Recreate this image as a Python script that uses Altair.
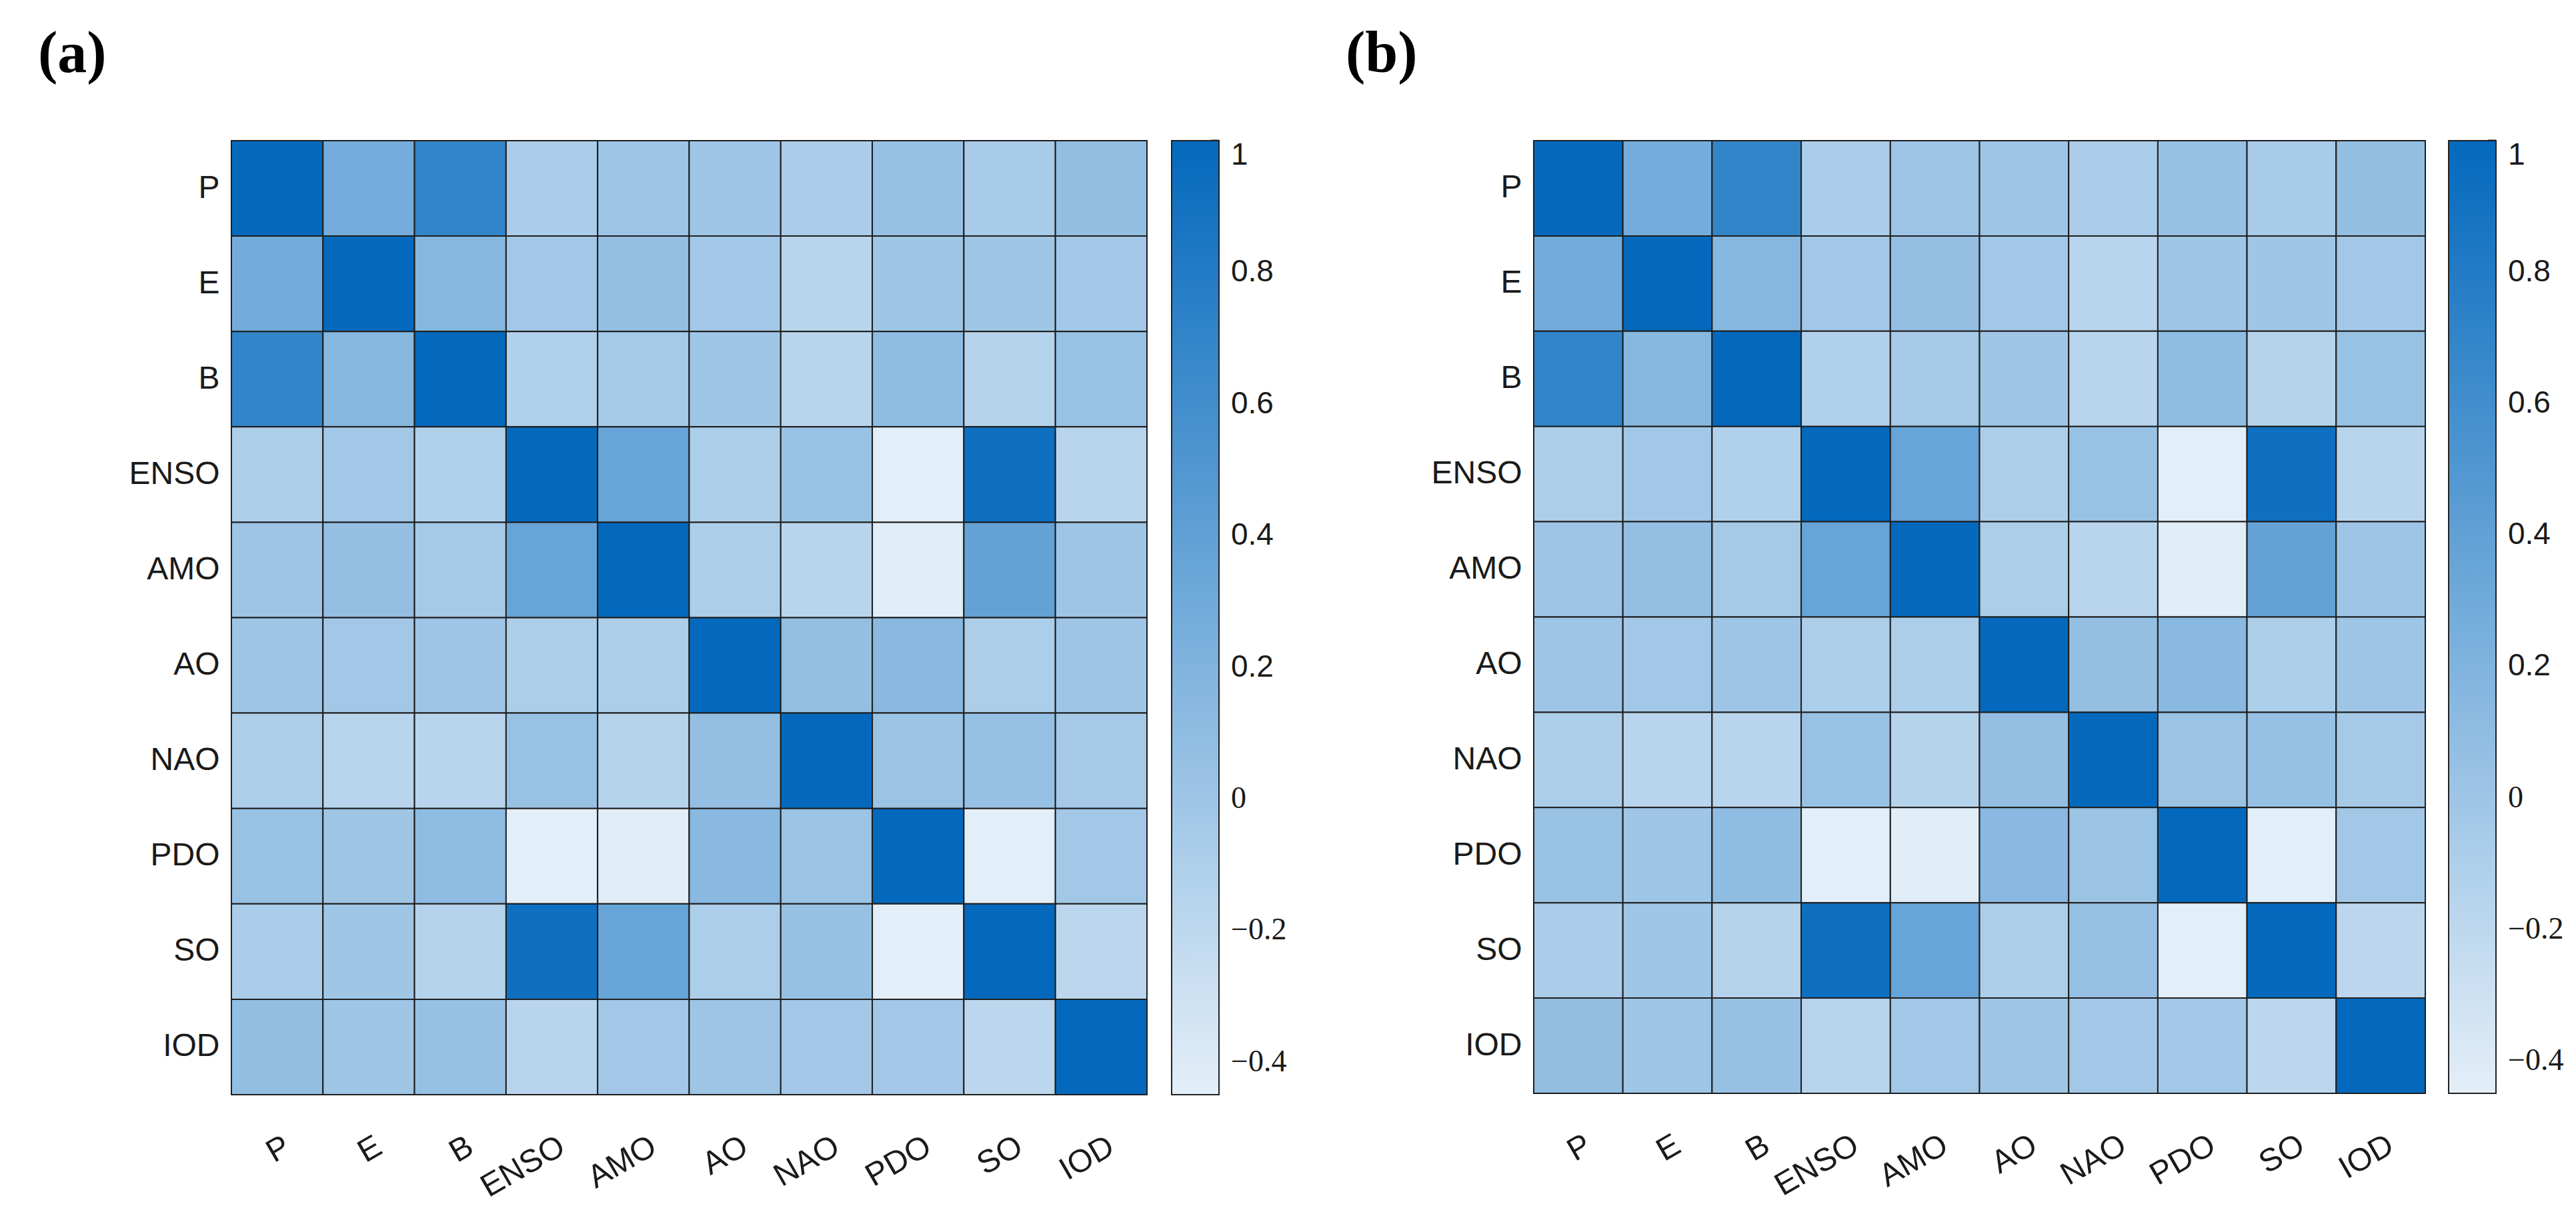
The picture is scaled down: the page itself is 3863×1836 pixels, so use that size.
import altair as alt
import pandas as pd

labels = ["P", "E", "B", "ENSO", "AMO", "AO", "NAO", "PDO", "SO", "IOD"]

corr_a = [
    [1.00, 0.27, 0.70, -0.08, 0.00, 0.00, -0.08, 0.05, -0.06, 0.08],
    [0.28, 1.00, 0.16, -0.02, 0.07, -0.03, -0.17, -0.01, -0.01, -0.02],
    [0.70, 0.16, 1.00, -0.12, -0.04, -0.01, -0.17, 0.10, -0.15, 0.04],
    [-0.09, -0.02, -0.12, 1.00, 0.36, -0.09, 0.04, -0.44, 0.93, -0.17],
    [0.00, 0.07, -0.04, 0.36, 1.00, -0.09, -0.17, -0.43, 0.38, 0.00],
    [0.00, -0.03, 0.00, -0.09, -0.09, 1.00, 0.07, 0.14, -0.09, 0.00],
    [-0.09, -0.17, -0.17, 0.04, -0.15, 0.07, 1.00, 0.03, 0.05, -0.04],
    [0.04, -0.01, 0.10, -0.44, -0.43, 0.14, 0.03, 1.00, -0.44, -0.03],
    [-0.08, -0.01, -0.15, 0.93, 0.36, -0.09, 0.05, -0.44, 1.00, -0.19],
    [0.08, -0.01, 0.05, -0.17, -0.02, 0.00, -0.03, -0.03, -0.19, 1.00],
]

corr_b = [
    [1.00, 0.27, 0.70, -0.08, 0.00, 0.00, -0.08, 0.05, -0.06, 0.08],
    [0.28, 1.00, 0.16, -0.02, 0.07, -0.03, -0.17, -0.01, -0.01, -0.02],
    [0.70, 0.16, 1.00, -0.12, -0.04, -0.01, -0.17, 0.10, -0.15, 0.04],
    [-0.09, -0.02, -0.12, 1.00, 0.36, -0.09, 0.04, -0.44, 0.93, -0.17],
    [0.00, 0.07, -0.04, 0.36, 1.00, -0.09, -0.17, -0.43, 0.38, 0.00],
    [0.00, -0.03, 0.00, -0.09, -0.09, 1.00, 0.07, 0.14, -0.09, 0.00],
    [-0.09, -0.17, -0.17, 0.04, -0.15, 0.07, 1.00, 0.03, 0.05, -0.04],
    [0.04, -0.01, 0.10, -0.44, -0.43, 0.14, 0.03, 1.00, -0.44, -0.03],
    [-0.08, -0.01, -0.15, 0.93, 0.36, -0.09, 0.05, -0.44, 1.00, -0.19],
    [0.08, -0.01, 0.05, -0.17, -0.02, 0.00, -0.03, -0.03, -0.19, 1.00],
]

legend_ticks = [-0.4, -0.2, 0, 0.2, 0.4, 0.6, 0.8, 1]
color_domain = [-0.45, 1.0]
color_range = ["#e4eff8", "#0469bd"]


def to_long(matrix):
    rows = []
    for i, r in enumerate(labels):
        for j, c in enumerate(labels):
            rows.append({"row": r, "col": c, "value": matrix[i][j]})
    return pd.DataFrame(rows)


def panel(matrix, title, w, h, legend_x, title_dx):
    df = to_long(matrix)
    heat = (
        alt.Chart(df)
        .mark_rect(stroke="#1e1e1e", strokeWidth=2)
        .encode(
            x=alt.X(
                "col:N",
                sort=labels,
                axis=alt.Axis(
                    title=None, orient="bottom", labelAngle=330, labelAlign="right",
                    labelBaseline="middle", labelPadding=74, labelOffset=16,
                    labelFontSize=48, labelFont="Liberation Sans", labelColor="#1a1a1a",
                    ticks=False, domain=False,
                ),
            ),
            y=alt.Y(
                "row:N",
                sort=labels,
                axis=alt.Axis(
                    title=None, labelFontSize=48, labelFont="Liberation Sans",
                    labelColor="#1a1a1a", ticks=False, domain=False, labelPadding=18,
                ),
            ),
            color=alt.Color(
                "value:Q",
                scale=alt.Scale(domain=color_domain, range=color_range, interpolate="rgb"),
                legend=alt.Legend(
                    orient="none", legendX=legend_x, legendY=0, direction="vertical",
                    title=None, gradientLength=h, gradientThickness=71,
                    values=legend_ticks, format=".1~f", labelFontSize=46, labelOffset=18,
                    labelColor="#1a1a1a",
                    labelFont=alt.ExprRef("datum.value <= 0 ? 'Liberation Serif' : 'Liberation Sans'"),
                    gradientStrokeColor="#222222", gradientStrokeWidth=2,
                ),
            ),
        )
    )
    ticks_df = pd.DataFrame({"v": legend_ticks})
    ticks = (
        alt.Chart(ticks_df)
        .mark_rule(color="#222222", strokeWidth=3)
        .encode(
            y=alt.Y("v:Q", scale=alt.Scale(domain=color_domain, nice=False, zero=False), axis=None),
            x=alt.value(legend_x + 71 - 12),
            x2=alt.value(legend_x + 71),
        )
    )
    return (
        alt.layer(heat, ticks)
        .resolve_scale(y="independent")
        .properties(
            width=w, height=h,
            title=alt.TitleParams(
                title, anchor="start", frame="group", dx=title_dx, fontSize=88,
                font="Liberation Serif", fontWeight="bold", offset=84, color="#000000",
            ),
        )
    )


chart_a = panel(corr_a, "(a)", 1373, 1431, 1410, -290)
chart_b = panel(corr_b, "(b)", 1337, 1429, 1372, -282)

chart = (
    alt.hconcat(chart_a, chart_b, spacing=88)
    .resolve_scale(color="independent")
    .properties(padding={"left": 49, "top": 29, "right": 5, "bottom": 5})
    .configure_view(stroke=None)
)

chart.save("out.html", embed_options={"renderer": "svg", "actions": False})
